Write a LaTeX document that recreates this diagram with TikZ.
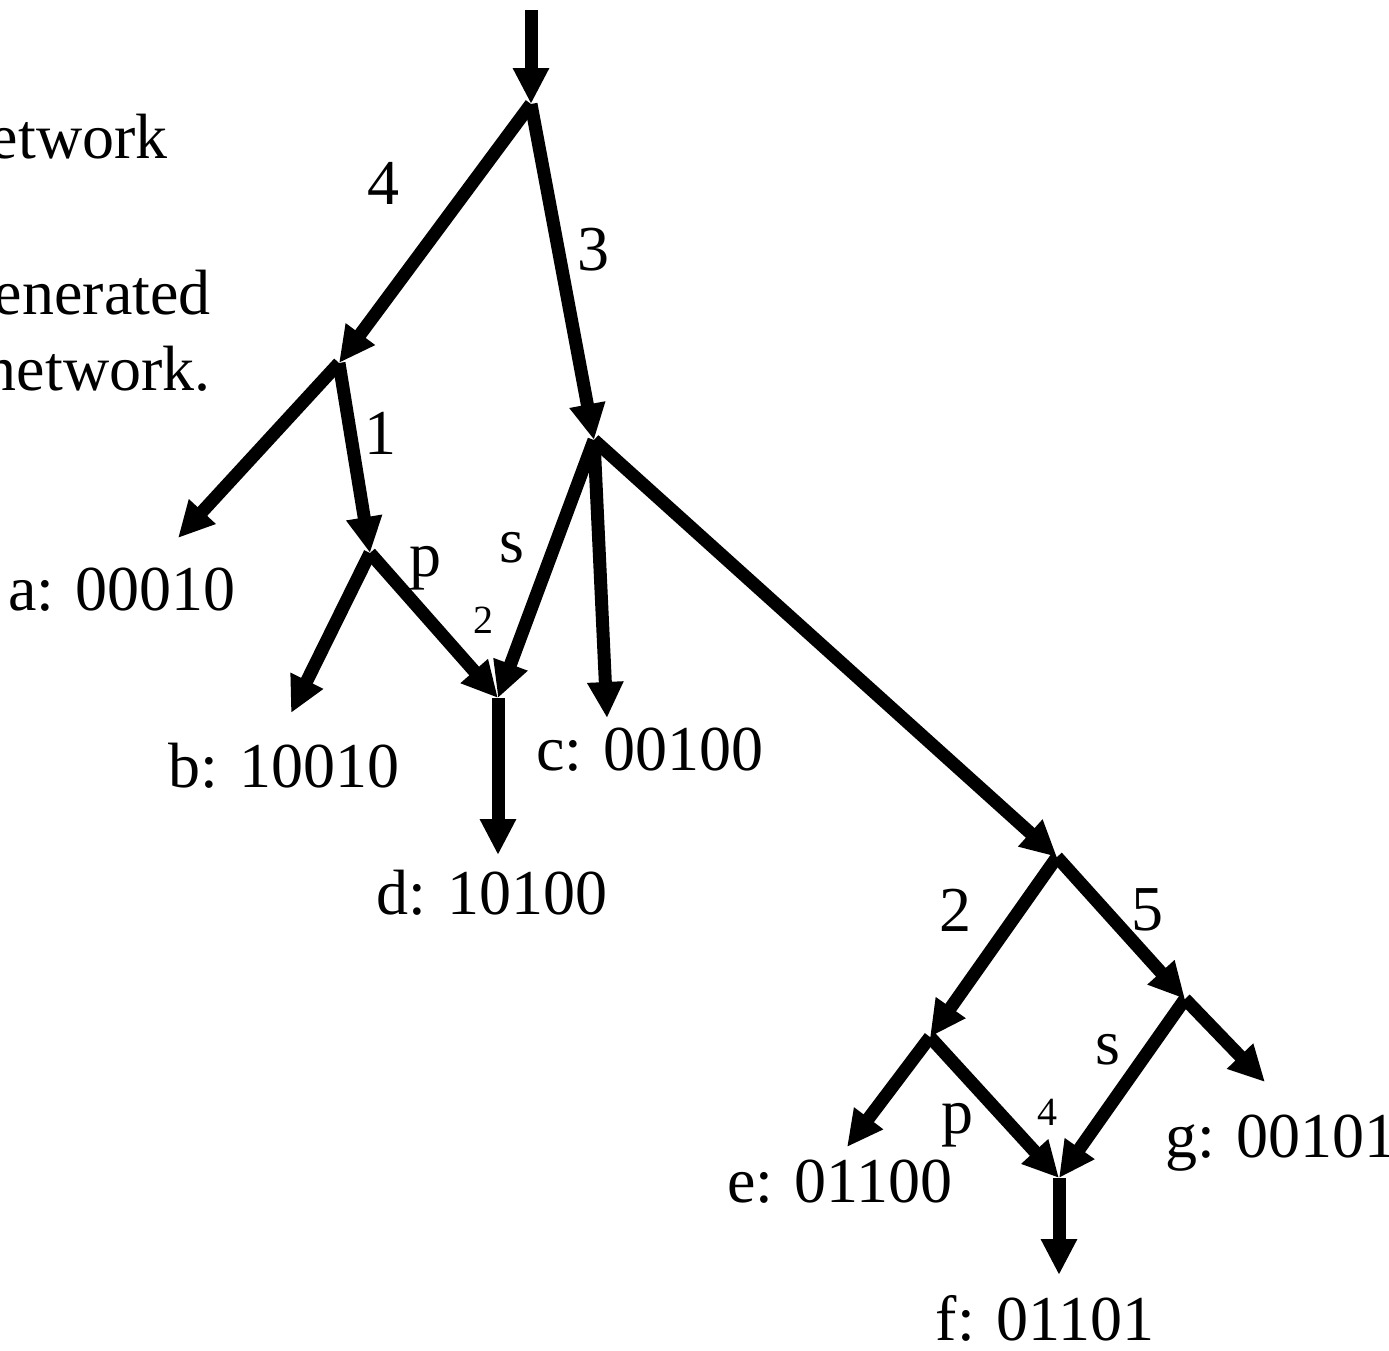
\documentclass[tikz,border=0pt]{standalone}
\usepackage{fontspec}
\setmainfont{Liberation Serif}
\usetikzlibrary{arrows.meta}
\begin{document}
\begin{tikzpicture}[x=0.5pt,y=-0.5pt,
  edge/.style={line width=6.5pt,-{Triangle[length=18pt,width=17pt]}},
  lbl/.style={inner sep=0pt,font=\fontsize{32}{38}\selectfont},
  slbl/.style={inner sep=0pt,font=\fontsize{20}{24}\selectfont}]
\useasboundingbox (0,0) rectangle (1389,1351);
% junctions and tips
\coordinate (top) at (531,10);
\coordinate (A) at (531,104);
\coordinate (B) at (339,363);
\coordinate (C) at (594,440);
\coordinate (ta) at (178,538);
\coordinate (D) at (370,553);
\coordinate (tb) at (291,713);
\coordinate (E) at (498,698);
\coordinate (tc) at (607,718);
\coordinate (td) at (498,855);
\coordinate (F) at (1057,857);
\coordinate (G) at (930,1037);
\coordinate (H) at (1185,999);
\coordinate (te) at (847,1147);
\coordinate (J) at (1059,1178);
\coordinate (tg) at (1265,1082);
\coordinate (tf) at (1059,1275);
% connectors
\draw[edge] (top) -- (A);
\draw[edge] (A) -- (B);
\draw[edge] (A) -- (C);
\draw[edge] (B) -- (ta);
\draw[edge] (B) -- (D);
\draw[edge] (D) -- (tb);
\draw[edge] (D) -- (E);
\draw[edge] (C) -- (E);
\draw[edge] (C) -- (tc);
\draw[edge] (C) -- (F);
\draw[edge] (E) -- (td);
\draw[edge] (F) -- (G);
\draw[edge] (F) -- (H);
\draw[edge] (G) -- (te);
\draw[edge] (G) -- (J);
\draw[edge] (H) -- (J);
\draw[edge] (H) -- (tg);
\draw[edge] (J) -- (tf);
% edge labels
\node[lbl] (l4) at (383,183) {4};
\node[lbl] (l3) at (593,250) {3};
\node[lbl] (l1) at (380,433) {1};
\node[lbl] (lp1) at (425,568) {p};
\node[slbl] (l2s) at (483,620) {2};
\node[lbl] (ls1) at (512,548) {s};
\node[lbl] (l2) at (955,910) {2};
\node[lbl] (l5) at (1147,910) {5};
\node[lbl] (ls2) at (1108,1050) {s};
\node[lbl] (lp2) at (957,1125) {p};
\node[slbl] (l4s) at (1047,1112) {4};
% leaf labels
\node[lbl] (na) at (122,590) {a: 00010};
\node[lbl] (nb) at (284,766) {b: 10010};
\node[lbl] (nc) at (650,750) {c: 00100};
\node[lbl] (nd) at (492,893) {d: 10100};
\node[lbl] (ne) at (840,1182) {e: 01100};
\node[lbl] (nf) at (1045,1318) {f: 01101};
\node[lbl,anchor=base west] (ng) at (1165,1157) {g: 00101};
% side text
\node[lbl,anchor=base east] (t1) at (168,158) {etwork};
\node[lbl,anchor=base east] (t2) at (211,314) {enerated};
\node[lbl,anchor=base east] (t3) at (211,390) {network.};
\end{tikzpicture}
\end{document}
